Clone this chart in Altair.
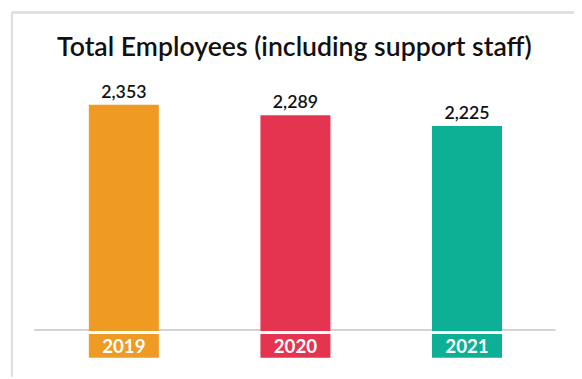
import altair as alt
import pandas as pd

years = ["2019", "2020", "2021"]
employees = [2353, 2289, 2225]
bar_colors = ["#EF9A22", "#E5344F", "#0DB094"]
title_text = "Total Employees (including support staff)"
labels = [f"{v:,}" for v in employees]

df = pd.DataFrame({"year": years, "value": employees, "label": labels})

FONT = "Lato"

xscale = alt.Scale(domain=years, range=[82, 501], paddingInner=0.592, paddingOuter=0)
yscale = alt.Scale(domain=[1000, 2915], zero=False, nice=False)
cscale = alt.Scale(domain=years, range=bar_colors)

base = alt.Chart(df)

frame_top = base.mark_rule(color="#dddddd", strokeWidth=2).encode(
    x=alt.value(4), x2=alt.value(574), y=alt.value(2)
)
frame_left = base.mark_rule(color="#dddddd", strokeWidth=2).encode(
    x=alt.value(4), y=alt.value(2), y2=alt.value(371)
)
baseline = base.mark_rule(color="#d3d3d3", strokeWidth=2).encode(
    x=alt.value(27), x2=alt.value(555), y=alt.value(324)
)

bars = base.mark_bar().encode(
    x=alt.X("year:N", scale=xscale, axis=None),
    y=alt.Y("value:Q", scale=yscale, axis=None),
    y2=alt.Y2(datum=1000),
    color=alt.Color("year:N", scale=cscale, legend=None),
)

values = base.mark_text(
    font=FONT, fontSize=18, fontWeight=600, color="#111111",
    baseline="alphabetic", dy=-7
).encode(
    x=alt.X("year:N", scale=xscale),
    y=alt.Y("value:Q", scale=yscale),
    text="label:N",
)

boxes = base.mark_bar().encode(
    x=alt.X("year:N", scale=xscale),
    y=alt.value(328), y2=alt.value(352),
    color=alt.Color("year:N", scale=cscale, legend=None),
)

year_text = base.mark_text(
    font=FONT, fontSize=19, fontWeight="bold", color="white", baseline="alphabetic"
).encode(
    x=alt.X("year:N", scale=xscale),
    y=alt.value(347),
    text="year:N",
)

title = alt.Chart(pd.DataFrame({"t": [title_text]})).mark_text(
    font=FONT, fontSize=27, fontWeight=600, color="#111111", baseline="alphabetic"
).encode(x=alt.value(290.5), y=alt.value(46), text="t:N")

chart = alt.layer(
    frame_top, frame_left, baseline, bars, values, boxes, year_text, title
).properties(
    width=574, height=325,
    autosize=alt.AutoSizeParams(type="none"),
    padding={"left": 0, "top": 0, "right": 0, "bottom": 46},
).configure_view(stroke=None)

chart.save("out.html", embed_options={"renderer": "svg", "actions": False})
